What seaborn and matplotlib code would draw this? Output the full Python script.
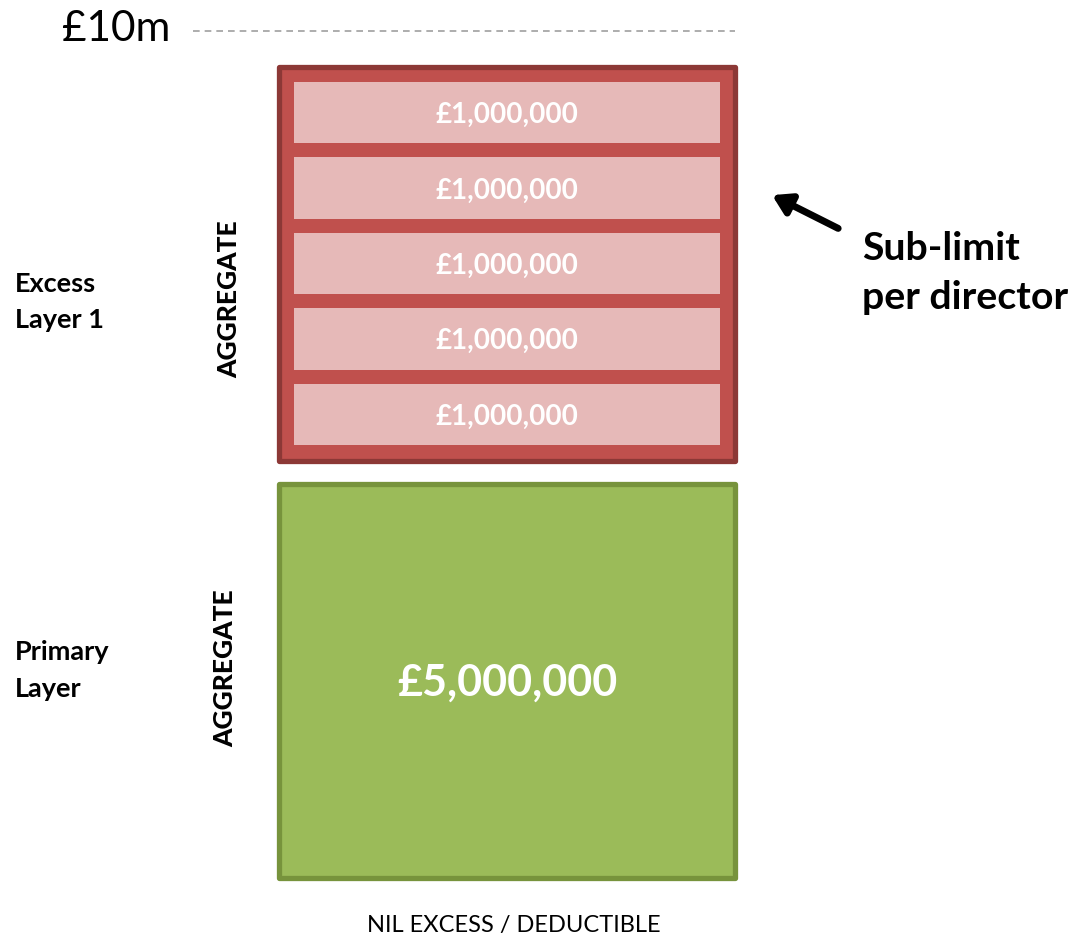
import matplotlib
matplotlib.use("Agg")
import matplotlib.pyplot as plt
import seaborn as sns
import pandas as pd

# ---- data ----
layers = ["Primary Layer", "Excess Layer 1"]
layer_limits = [5, 5]            # £m
layer_bottoms = [0, 5]           # £m attachment
layer_values = ["£5,000,000", None]
sub_limits = [1, 1, 1, 1, 1]     # £m per director within excess layer
sub_labels = ["£1,000,000"] * 5
top_label = "£10m"
top_value = 10
bottom_label = "NIL EXCESS / DEDUCTIBLE"
side_labels = ["Primary\nLayer", "Excess\nLayer 1"]
agg_label = "AGGREGATE"
note_label = "Sub-limit\nper director"

sns.set_theme(style="white")
plt.rcParams["font.family"] = ["Lato", "DejaVu Sans"]
plt.rcParams["text.color"] = "black"

W, H = 1075, 938
fig = plt.figure(figsize=(W / 100, H / 100), dpi=100)
ax = fig.add_axes([0, 0, 1, 1])

px_x = 570.0    # px per x unit
px_y = 81.1     # px per £m
x0_px, y0_px = 507, 878

bar_w = 0.8
inset = 0.14
edge_lw = 3.8

# primary layer via seaborn
prim = pd.DataFrame({"col": ["Limit"], "h": [layer_limits[0] - inset]})
sns.barplot(data=prim, x="col", y="h", ax=ax, width=bar_w, color="#9BBB59",
            edgecolor="#77933C", linewidth=edge_lw, saturation=1)
ax.set_xlim(-x0_px / px_x, (W - x0_px) / px_x)
ax.set_ylim((y0_px - H) / px_y, y0_px / px_y)
ax.axis("off")
for p in ax.patches:
    p.set_joinstyle("round")

# excess layer
eb = layer_bottoms[1] + inset
eh = layer_limits[1] - inset
ax.bar(0, eh, bottom=eb, width=bar_w, color="#C0504D", edgecolor="#8C3836",
       linewidth=edge_lw, joinstyle="round", zorder=2)

# sub-limit rows
pad_top, pad_bot, row_gap = 0.185, 0.20, 0.173
inner_w = 0.746
inner_lo = eb + pad_bot - row_gap / 2
inner_hi = eb + eh - pad_top + row_gap / 2
scale = (inner_hi - inner_lo) / sum(sub_limits)
cum = inner_lo
for v, lab in zip(sub_limits, sub_labels):
    b = cum + row_gap / 2
    h = v * scale - row_gap
    ax.bar(0, h, bottom=b, width=inner_w, color="#E6B9B8", linewidth=0, zorder=3)
    ax.text(0, b + h / 2 - 0.03, lab, ha="center", va="center", color="white",
            fontsize=20, fontweight="bold", zorder=4)
    cum += v * scale

# primary value label
ax.text(0, (layer_limits[0] - inset) / 2 - 0.02, layer_values[0], ha="center", va="center",
        color="white", fontsize=31, fontweight="bold", zorder=4)

# top line
line_y = top_value + 0.44
ax.plot([-0.551, bar_w / 2], [line_y, line_y], ls=(0, (4, 3)), color="#A0A0A0", lw=1.2)
ax.text(-0.59, line_y + 0.03, top_label, ha="right", va="center", fontsize=30.5,
        fontweight="normal", color="black")

# side labels
ax.text(-0.863, 2.56, side_labels[0], ha="left", va="center", fontsize=19.5,
        fontweight="bold", linespacing=1.62)
ax.text(-0.863, 7.10, side_labels[1], ha="left", va="center", fontsize=19.5,
        fontweight="bold", linespacing=1.62)
ax.text(-0.494, 2.59, agg_label, ha="center", va="center", rotation=90,
        fontsize=19, fontweight="black")
ax.text(-0.488, 7.14, agg_label, ha="center", va="center", rotation=90,
        fontsize=19, fontweight="black")

# arrow + note
ax.annotate("", xy=(0.465, 8.42), xytext=(0.581, 8.01),
            arrowprops=dict(arrowstyle="-|>,head_length=0.9,head_width=0.55",
                            color="black", lw=5, shrinkA=0, shrinkB=0))
ax.text(0.623, 7.46, note_label, ha="left", va="center", fontsize=28.3,
        fontweight="bold", linespacing=1.5)

# bottom label
ax.text(0.012, -0.58, bottom_label, ha="center", va="center", fontsize=17)

fig.savefig("out.png", dpi=100)
